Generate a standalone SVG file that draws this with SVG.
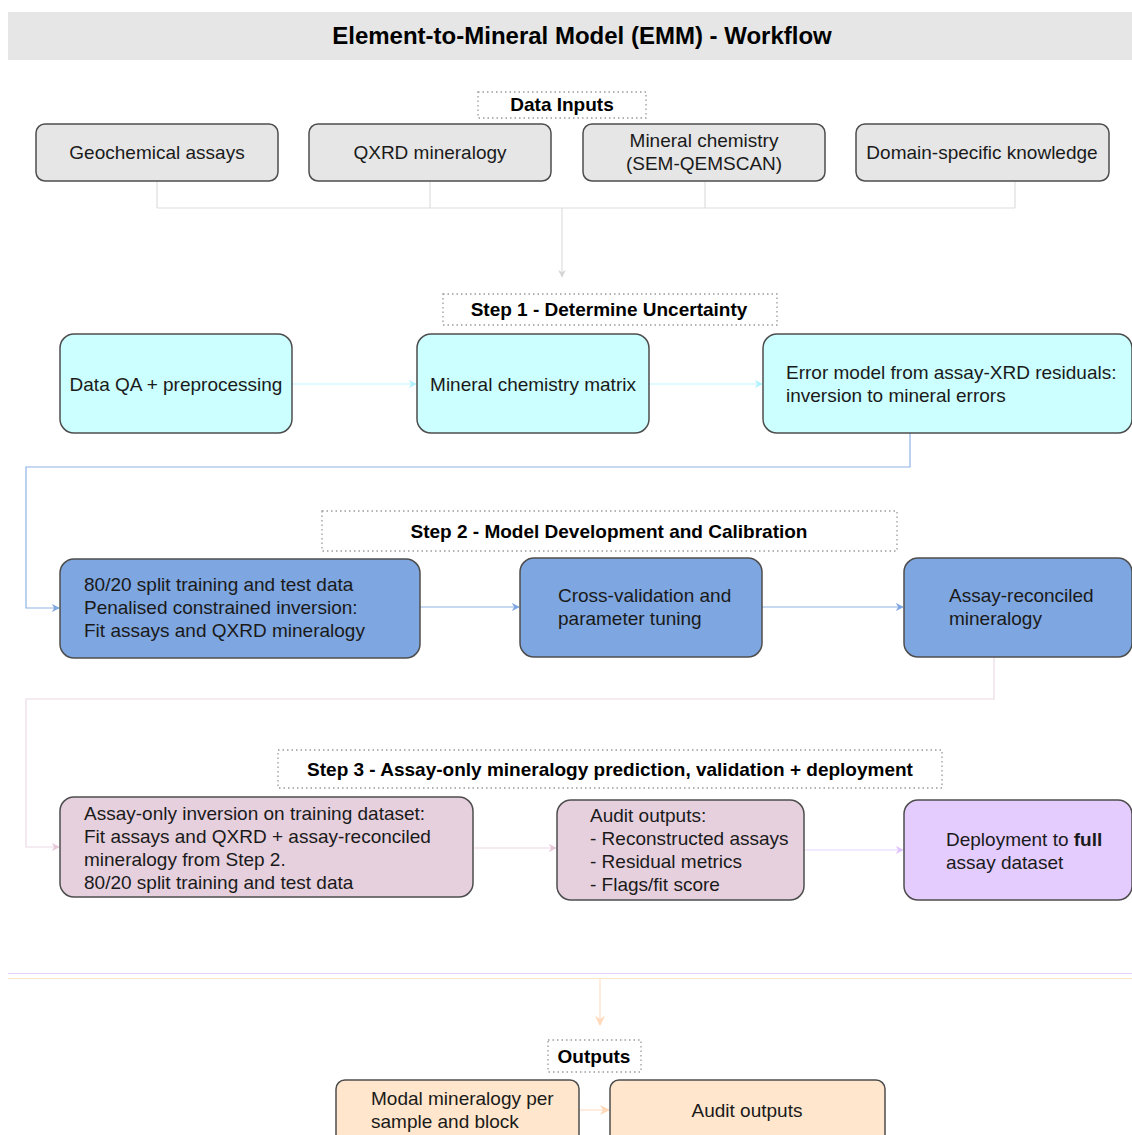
<svg xmlns="http://www.w3.org/2000/svg" width="1132" height="1135" viewBox="0 0 1132 1135">
<defs>
<style>
text{font-family:"Liberation Sans",Arial,sans-serif;fill:#1a1a1a;}
.t{font-size:19px;}
.b{font-size:19px;font-weight:bold;fill:#000;}
.title{font-size:24px;font-weight:bold;fill:#000;}
.lbl{fill:#fff;stroke:#9a9a9a;stroke-width:1.3;stroke-dasharray:1.5 3;}
.box{stroke:#4d4d4d;stroke-width:1.5;}
.in{fill:#e6e6e6;}
.cy{fill:#ccffff;}
.bl{fill:#7ea6e0;}
.pk{fill:#e6d0de;}
.lv{fill:#e5ccff;}
.pc{fill:#ffe6cc;}
.c{fill:none;stroke-width:1.2;}
</style>
<marker id="mg" viewBox="0 0 10 10" refX="9" refY="5" markerWidth="8" markerHeight="8" markerUnits="userSpaceOnUse" orient="auto"><path d="M0,0 L10,5 L0,10 L3,5 Z" fill="#d6d6d6"/></marker>
<marker id="mc" viewBox="0 0 10 10" refX="9" refY="5" markerWidth="8" markerHeight="8" markerUnits="userSpaceOnUse" orient="auto"><path d="M0,0 L10,5 L0,10 L3,5 Z" fill="#b0f2ff"/></marker>
<marker id="mb" viewBox="0 0 10 10" refX="9" refY="5" markerWidth="8" markerHeight="8" markerUnits="userSpaceOnUse" orient="auto"><path d="M0,0 L10,5 L0,10 L3,5 Z" fill="#7ea6e0"/></marker>
<marker id="mp" viewBox="0 0 10 10" refX="9" refY="5" markerWidth="8" markerHeight="8" markerUnits="userSpaceOnUse" orient="auto"><path d="M0,0 L10,5 L0,10 L3,5 Z" fill="#e6c8d8"/></marker>
<marker id="ml" viewBox="0 0 10 10" refX="9" refY="5" markerWidth="8" markerHeight="8" markerUnits="userSpaceOnUse" orient="auto"><path d="M0,0 L10,5 L0,10 L3,5 Z" fill="#e0c4ff"/></marker>
<marker id="mo" viewBox="0 0 10 10" refX="9" refY="5" markerWidth="10" markerHeight="10" markerUnits="userSpaceOnUse" orient="auto"><path d="M0,0 L10,5 L0,10 L3,5 Z" fill="#ffd9b8"/></marker>
</defs>
<rect width="1132" height="1135" fill="#fff"/>

<g id="title">
<rect x="8" y="12" width="1124" height="48" fill="#e6e6e6"/>
<text class="title" x="582" y="44" text-anchor="middle">Element-to-Mineral Model (EMM) - Workflow</text>
</g>

<g id="connectors">
<path class="c" stroke="#dedede" d="M157,181 V208 M430,181 V208 M705,181 V208 M1015,181 V208 M157,208 H1015"/>
<path class="c" stroke="#dedede" d="M562,208 V277" marker-end="url(#mg)"/>
<path class="c" stroke="#bff7ff" stroke-width="2" d="M292,384 H416" marker-end="url(#mc)"/>
<path class="c" stroke="#bff7ff" stroke-width="2" d="M649,384 H762" marker-end="url(#mc)"/>
<path class="c" stroke="#8fb3e6" d="M910,433 V467 H26 V608 H59" marker-end="url(#mb)"/>
<path class="c" stroke="#8fb3e6" d="M420,607 H519" marker-end="url(#mb)"/>
<path class="c" stroke="#8fb3e6" d="M762,607 H903" marker-end="url(#mb)"/>
<path class="c" stroke="#ecdae4" d="M994,657 V699 H26 V847 H59" marker-end="url(#mp)"/>
<path class="c" stroke="#ecdae4" d="M473,848 H556" marker-end="url(#mp)"/>
<path class="c" stroke="#e8d6ff" stroke-width="1.5" d="M804,850 H903" marker-end="url(#ml)"/>
<path class="c" stroke="#e5d0ff" stroke-width="2.5" d="M8,973.5 H1132"/>
<path class="c" stroke="#ffe4cc" stroke-width="1.5" d="M8,978.5 H1132"/>
<path class="c" stroke="#ffe0c8" stroke-width="1.5" d="M600,978 V1025" marker-end="url(#mo)"/>
<path class="c" stroke="#ffe0c8" stroke-width="1.5" d="M579,1110 H609" marker-end="url(#mo)"/>
</g>

<g id="label-data-inputs">
<rect class="lbl" x="478" y="92" width="168" height="26"/>
<text class="b" x="562" y="111" text-anchor="middle">Data Inputs</text>
</g>
<g id="in-geochem">
<rect class="box in" x="36" y="124" width="242" height="57" rx="9"/>
<text class="t" x="157" y="159" text-anchor="middle">Geochemical assays</text>
</g>
<g id="in-qxrd">
<rect class="box in" x="309" y="124" width="242" height="57" rx="9"/>
<text class="t" x="430" y="159" text-anchor="middle">QXRD mineralogy</text>
</g>
<g id="in-minchem">
<rect class="box in" x="583" y="124" width="242" height="57" rx="9"/>
<text class="t" x="704" y="147" text-anchor="middle">Mineral chemistry</text>
<text class="t" x="704" y="170" text-anchor="middle">(SEM-QEMSCAN)</text>
</g>
<g id="in-domain">
<rect class="box in" x="856" y="124" width="253" height="57" rx="9"/>
<text class="t" x="982" y="159" text-anchor="middle">Domain-specific knowledge</text>
</g>

<g id="label-step1">
<rect class="lbl" x="443" y="294" width="334" height="31"/>
<text class="b" x="609" y="316" text-anchor="middle">Step 1 - Determine Uncertainty</text>
</g>
<g id="s1-qa">
<rect class="box cy" x="60" y="334" width="232" height="99" rx="14"/>
<text class="t" x="176" y="391" text-anchor="middle">Data QA + preprocessing</text>
</g>
<g id="s1-matrix">
<rect class="box cy" x="417" y="334" width="232" height="99" rx="14"/>
<text class="t" x="533" y="391" text-anchor="middle">Mineral chemistry matrix</text>
</g>
<g id="s1-error">
<rect class="box cy" x="763" y="334" width="369" height="99" rx="14"/>
<text class="t" x="786" y="379">Error model from assay-XRD residuals:</text>
<text class="t" x="786" y="402">inversion to mineral errors</text>
</g>

<g id="label-step2">
<rect class="lbl" x="322" y="511" width="575" height="40"/>
<text class="b" x="609" y="538" text-anchor="middle">Step 2 - Model Development and Calibration</text>
</g>
<g id="s2-split">
<rect class="box bl" x="60" y="559" width="360" height="99" rx="14"/>
<text class="t" x="84" y="591">80/20 split training and test data</text>
<text class="t" x="84" y="614">Penalised constrained inversion:</text>
<text class="t" x="84" y="637">Fit assays and QXRD mineralogy</text>
</g>
<g id="s2-cv">
<rect class="box bl" x="520" y="558" width="242" height="99" rx="14"/>
<text class="t" x="558" y="602">Cross-validation and</text>
<text class="t" x="558" y="625">parameter tuning</text>
</g>
<g id="s2-recon">
<rect class="box bl" x="904" y="558" width="228" height="99" rx="14"/>
<text class="t" x="949" y="602">Assay-reconciled</text>
<text class="t" x="949" y="625">mineralogy</text>
</g>

<g id="label-step3">
<rect class="lbl" x="278" y="750" width="664" height="38"/>
<text class="b" x="610" y="776" text-anchor="middle">Step 3 - Assay-only mineralogy prediction, validation + deployment</text>
</g>
<g id="s3-inversion">
<rect class="box pk" x="60" y="797" width="413" height="100" rx="14"/>
<text class="t" x="84" y="820">Assay-only inversion on training dataset:</text>
<text class="t" x="84" y="843">Fit assays and QXRD + assay-reconciled</text>
<text class="t" x="84" y="866">mineralogy from Step 2.</text>
<text class="t" x="84" y="889">80/20 split training and test data</text>
</g>
<g id="s3-audit">
<rect class="box pk" x="557" y="800" width="247" height="100" rx="14"/>
<text class="t" x="590" y="822">Audit outputs:</text>
<text class="t" x="590" y="845">- Reconstructed assays</text>
<text class="t" x="590" y="868">- Residual metrics</text>
<text class="t" x="590" y="891">- Flags/fit score</text>
</g>
<g id="s3-deploy">
<rect class="box lv" x="904" y="800" width="228" height="100" rx="14"/>
<text class="t" x="946" y="846">Deployment to <tspan font-weight="bold">full</tspan></text>
<text class="t" x="946" y="869">assay dataset</text>
</g>

<g id="label-outputs">
<rect class="lbl" x="548" y="1040" width="93" height="32"/>
<text class="b" x="594" y="1063" text-anchor="middle">Outputs</text>
</g>
<g id="out-modal">
<rect class="box pc" x="336" y="1080" width="243" height="80" rx="9"/>
<text class="t" x="371" y="1105">Modal mineralogy per</text>
<text class="t" x="371" y="1128">sample and block</text>
</g>
<g id="out-audit">
<rect class="box pc" x="610" y="1080" width="275" height="80" rx="9"/>
<text class="t" x="747" y="1117" text-anchor="middle">Audit outputs</text>
</g>
</svg>
